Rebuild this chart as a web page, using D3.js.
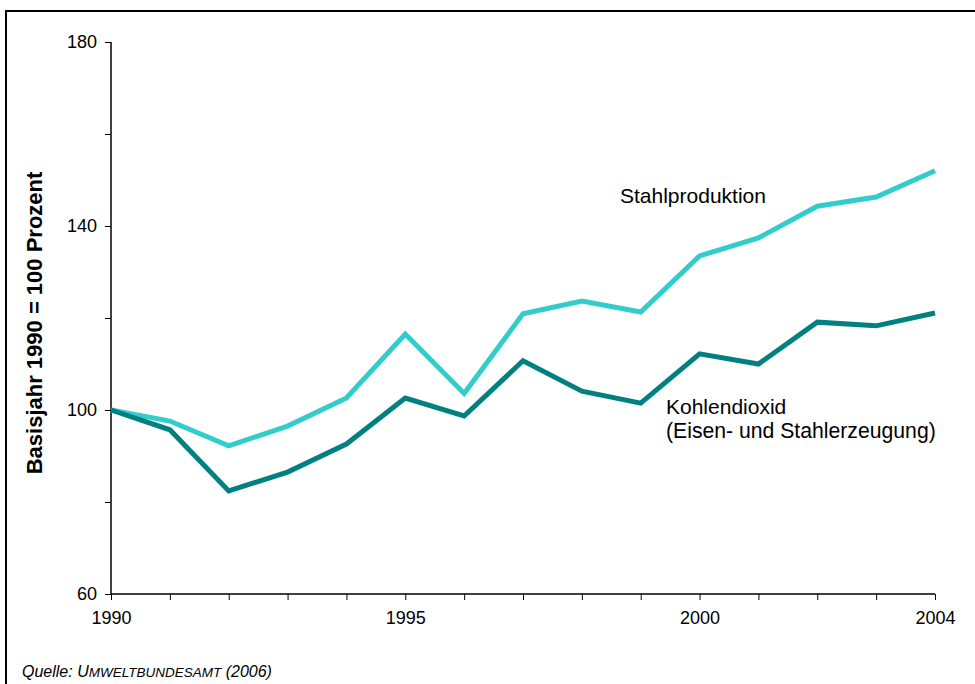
<!DOCTYPE html>
<html><head><meta charset="utf-8">
<script src="https://cdn.jsdelivr.net/npm/d3@7"></script>
<style>
body{margin:0;background:#fff;}
svg{display:block;font-family:Arial,"Liberation Sans",sans-serif;}
</style></head>
<body>
<svg id="c" width="975" height="684"></svg>
<script>
const years = [1990,1991,1992,1993,1994,1995,1996,1997,1998,1999,2000,2001,2002,2003,2004];
const stahl = [100,97.6,92.2,96.5,102.6,116.5,103.6,120.9,123.7,121.3,133.5,137.4,144.3,146.3,152];
const co2 = [100,95.7,82.4,86.5,92.6,102.6,98.7,110.7,104.1,101.5,112.2,110,119.1,118.3,121.1];
const yTicks = [60,80,100,120,140,160,180];
const yLabels = [60,100,140,180];
const xLabels = [1990,1995,2000,2004];

const FF = "Arial,'Liberation Sans',sans-serif";
const svg = d3.select("#c");
svg.append("rect").attr("x",6).attr("y",11).attr("width",980).attr("height",690)
  .attr("fill","none").attr("stroke","#000").attr("stroke-width",2);

const x = d3.scaleLinear().domain([1990,2004]).range([111,935]);
const y = d3.scaleLinear().domain([60,180]).range([594,42]);

// y axis
const ya = svg.append("g").attr("transform","translate(111,0)")
  .call(d3.axisLeft(y).tickValues(yTicks).tickSize(6).tickPadding(8)
    .tickFormat(d => yLabels.includes(d) ? d : ""));
ya.select(".domain").attr("stroke","#000").attr("stroke-width",1.5).attr("d","M0,42V594");
ya.selectAll("text").attr("font-size",18).attr("fill","#000").attr("font-family",FF);
ya.selectAll("line").attr("stroke","#000");

// x axis
const xa = svg.append("g").attr("transform","translate(0,594)")
  .call(d3.axisBottom(x).tickValues(years).tickSize(6).tickPadding(11)
    .tickFormat(d => xLabels.includes(d) ? d : ""));
xa.select(".domain").attr("stroke","#000").attr("stroke-width",1.5).attr("d","M111,0H935");
xa.selectAll("text").attr("font-size",18).attr("fill","#000").attr("font-family",FF);
xa.selectAll("line").attr("stroke","#000");

const line = d3.line().x((d,i)=>x(years[i])).y(d=>y(d));
svg.append("path").datum(stahl).attr("d",line).attr("fill","none")
  .attr("stroke","#33CCCC").attr("stroke-width",5).attr("stroke-linejoin","miter");
svg.append("path").datum(co2).attr("d",line).attr("fill","none")
  .attr("stroke","#008080").attr("stroke-width",5).attr("stroke-linejoin","miter");

svg.append("text").attr("x",620).attr("y",203).attr("font-size",21).text("Stahlproduktion");
svg.append("text").attr("x",666).attr("y",414).attr("font-size",21).text("Kohlendioxid");
svg.append("text").attr("x",666).attr("y",438).attr("font-size",21.2).text("(Eisen- und Stahlerzeugung)");

svg.append("text").attr("transform","translate(42,323) rotate(-90)").attr("text-anchor","middle")
  .attr("font-size",22).attr("font-weight","bold").text("Basisjahr 1990 = 100 Prozent");

const q = svg.append("text").attr("x",22).attr("y",677).attr("font-size",16).attr("font-style","italic");
q.append("tspan").text("Quelle: U");
q.append("tspan").attr("font-size",13.5).text("MWELTBUNDESAMT");
q.append("tspan").text(" (2006)");
</script>
</body></html>
